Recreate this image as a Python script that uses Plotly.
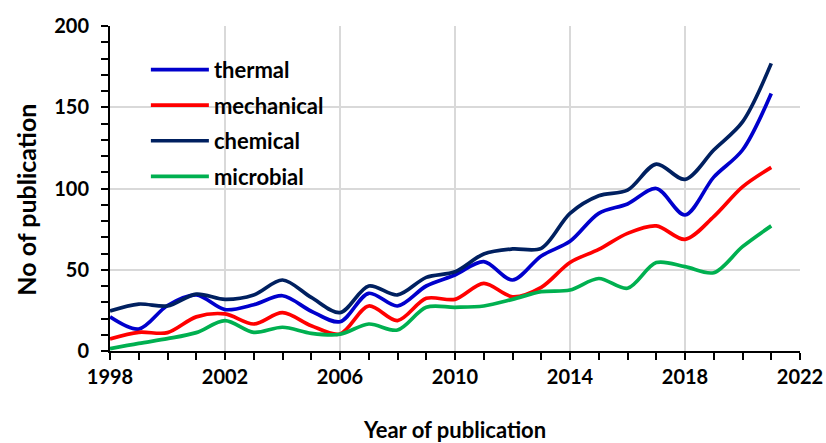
import plotly.graph_objects as go

years = list(range(1998, 2022))
thermal = [21, 13.5, 28, 34.5, 25.5, 28.5, 34, 24.5, 18, 35.5, 27.7, 40, 46.8, 55, 43.7, 58.5, 67.5, 84.7, 90.5, 100, 83.7, 107, 123.7, 158.5]
mechanical = [7.4, 11.5, 11.3, 21, 22.8, 16.6, 23.6, 15.6, 10.5, 27.7, 18.7, 32.4, 31.8, 41.6, 33.4, 39.2, 54.5, 62.5, 72.4, 77, 68.7, 82.7, 101, 113]
chemical = [24.6, 28.9, 27.7, 35, 31.8, 34.5, 43.7, 33, 23.6, 40, 34.5, 45.3, 48.8, 59.7, 62.8, 63.2, 84.7, 95.5, 99, 115, 105.6, 123.7, 141, 177]
microbial = [1.4, 4.7, 7.6, 11.3, 18.7, 11.5, 14.6, 10.9, 10.3, 16.6, 12.9, 26.9, 26.9, 27.7, 31.8, 36.5, 37.5, 44.6, 38.6, 54.4, 51.9, 48.2, 64.2, 77]

series = [
    ("thermal", thermal, "#0000CC"),
    ("mechanical", mechanical, "#FF0000"),
    ("chemical", chemical, "#002060"),
    ("microbial", microbial, "#00B050"),
]

FONT = "Lato"
fig = go.Figure()
for name, vals, col in series:
    fig.add_trace(go.Scatter(
        x=years, y=vals, name=name, mode="lines", legendgroup=name,
        line=dict(color=col, width=3.7, shape="spline", smoothing=0.9),
    ))

fig.update_layout(
    width=826, height=443,
    margin=dict(l=110, r=26, t=26, b=92),
    plot_bgcolor="white", paper_bgcolor="white",
    font=dict(family=FONT, size=21, color="black"),
    legend=dict(
        x=0.052, y=0.93, xanchor="left", yanchor="top",
        bgcolor="rgba(0,0,0,0)", tracegroupgap=4, itemwidth=58,
        font=dict(family=FONT, size=22, color="black", weight="bold"),
    ),
    showlegend=True,
    annotations=[dict(
        text="No of publication", textangle=-90, showarrow=False,
        xref="paper", yref="paper", x=-0.123, y=0.466,
        xanchor="center", yanchor="middle",
        font=dict(family=FONT, size=25, weight="bold", color="black"),
    )],
)
fig.update_xaxes(
    range=[1998, 2022], tick0=1998, dtick=4, automargin=False,
    showgrid=True, gridcolor="#D9D9D9", gridwidth=1.5,
    showline=True, linecolor="black", linewidth=2,
    ticks="outside", ticklen=7, tickwidth=2, tickcolor="black",
    minor=dict(dtick=1, ticks="outside", ticklen=7, tickwidth=2, tickcolor="black", showgrid=False),
    tickfont=dict(family=FONT, size=20, weight="bold"),
    title=dict(text="Year of publication", font=dict(family=FONT, size=22, weight="bold"), standoff=38),
    zeroline=False,
)
fig.update_yaxes(
    range=[0, 200], dtick=50, automargin=False,
    showgrid=True, gridcolor="#D9D9D9", gridwidth=1.5,
    showline=True, linecolor="black", linewidth=2,
    ticks="outside", ticklen=7, tickwidth=2, tickcolor="black", ticklabelstandoff=8,
    minor=dict(dtick=10, ticks="outside", ticklen=7, tickwidth=2, tickcolor="black", showgrid=False),
    tickfont=dict(family=FONT, size=20, weight="bold"),
    zeroline=False,
)
fig.write_html("out.html", config={"displayModeBar": False},
               post_script="document.body.style.margin='0';document.body.style.padding='0';")
